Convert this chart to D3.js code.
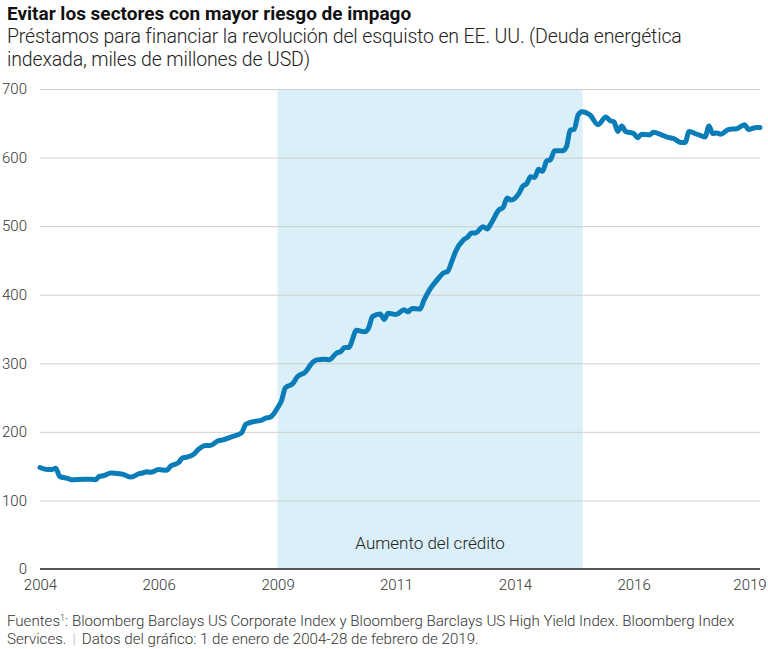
<!DOCTYPE html>
<html>
  <head>
    <meta charset="utf-8">
    <title></title>
    <style>
      body {
        margin: 0;
        background: #fff;
        font-family: Roboto, sans-serif;
      }
      svg {
        display: block;
      }
      .title {
        font-family: Roboto, sans-serif;
        font-weight: 700;
        font-size: 19px;
        fill: #111;
      }
      .subtitle {
        font-family: Roboto, sans-serif;
        font-weight: 300;
        font-size: 19.5px;
        letter-spacing: -0.15px;
        fill: #222;
      }
      .axis text {
        font-family: Roboto, sans-serif;
        font-weight: 300;
        font-size: 15px;
        fill: #333;
      }
      .axis .domain {
        stroke: none;
      }
      .grid line {
        stroke: #cfcfcf;
      }
      .note {
        font-size: 15.1px;
        font-weight: 300;
        fill: #333;
      }
    </style>
  </head>
  <body>
    <div class="chart"></div>
    <script src="https://cdn.jsdelivr.net/npm/d3@7"></script>
    <script>

      // deuda energética indexada, miles de millones de USD
      let months = [
        "2004-01","2004-03","2004-04","2004-05","2004-06","2004-08","2004-09","2004-12",
        "2005-02","2005-03","2005-04","2005-05","2005-07","2005-09","2005-10","2005-12",
        "2006-02","2006-03","2006-04","2006-05","2006-07","2006-09","2006-10","2006-12",
        "2007-01","2007-02","2007-04","2007-05","2007-07","2007-08","2007-10","2007-11",
        "2008-01","2008-02","2008-04","2008-05","2008-07","2008-09","2008-10","2008-11","2008-12",
        "2009-01","2009-02","2009-03","2009-05","2009-06","2009-08","2009-10","2009-11",
        "2010-01","2010-02","2010-04","2010-05","2010-06","2010-07","2010-09","2010-11","2010-12",
        "2011-01","2011-03","2011-04","2011-05","2011-07","2011-09","2011-10","2011-11",
        "2012-01","2012-02","2012-04","2012-05","2012-07","2012-08","2012-09","2012-10","2012-12",
        "2013-01","2013-02","2013-03","2013-05","2013-06","2013-07","2013-09","2013-10","2013-11","2013-12",
        "2014-02","2014-03","2014-04","2014-05","2014-06","2014-07","2014-08","2014-09","2014-10","2014-11",
        "2015-01","2015-02","2015-03","2015-04","2015-05","2015-06","2015-08","2015-10","2015-12",
        "2016-01","2016-02","2016-03","2016-04","2016-05","2016-07","2016-08","2016-09","2016-11","2016-12",
        "2017-02","2017-04","2017-05","2017-07","2017-08","2017-09","2017-11","2017-12",
        "2018-01","2018-02","2018-03","2018-04","2018-05","2018-07","2018-09","2018-11","2018-12",
        "2019-02"
      ];
      let debt = [
        148,145,145,147,135,132,130,131,
        131,130,135,136,140,139,138,134,
        139,140,142,141,145,144,150,155,
        162,163,168,174,180,180,187,188,
        192,194,199,211,215,217,220,221,226,
        235,246,264,271,280,287,302,305,
        306,305,315,317,323,323,348,346,351,
        368,372,364,373,371,378,375,380,
        379,392,412,419,432,434,448,463,480,
        484,490,490,499,496,504,524,527,541,538,
        548,558,562,572,571,583,580,595,597,610,
        610,616,640,641,662,667,662,648,659,
        654,652,638,646,638,635,629,634,633,637,
        633,629,628,622,622,638,634,632,
        630,646,635,636,634,641,642,648,641,
        644
      ];

      let dateRange = ["2004-01-01", "2019-02-28"];
      let boomRange = ["2009-01-01", "2015-06-05"];
      let boomLabel = "Aumento del crédito";

      let xTicks = ["2004-01-01","2006-07-01","2009-01-01","2011-07-01","2014-01-01","2016-07-01","2019-01-01"];
      let xTickLabels = ["2004","2006","2009","2011","2014","2016","2019"];
      let yTicks = [0, 100, 200, 300, 400, 500, 600, 700];

      let parse = d3.timeParse("%Y-%m-%d");
      let data = months.map((m, i) => ({date: parse(m + "-01"), value: debt[i]}));
      data.push({date: parse(dateRange[1]), value: debt[debt.length - 1]});

      let elWidth = 768, elHeight = 649;
      let margin = {top: 89, right: 8, bottom: 80, left: 40};
      let width = elWidth - margin.left - margin.right;
      let height = elHeight - margin.top - margin.bottom;

      let svg = d3.select(".chart").append("svg")
        .attr("width", elWidth)
        .attr("height", elHeight);

      svg.append("text").attr("class", "title")
        .attr("x", 7).attr("y", 20)
        .text("Evitar los sectores con mayor riesgo de impago");

      svg.append("text").attr("class", "subtitle")
        .attr("x", 7).attr("y", 43)
        .text("Préstamos para financiar la revolución del esquisto en EE. UU. (Deuda energética");
      svg.append("text").attr("class", "subtitle")
        .attr("x", 7).attr("y", 66)
        .text("indexada, miles de millones de USD)");

      let g = svg.append("g").attr("transform", "translate(" + margin.left + "," + margin.top + ")");

      let x = d3.scaleTime()
        .domain(dateRange.map(parse))
        .range([0, width]);

      let y = d3.scaleLinear()
        .domain([0, 700])
        .range([height, 0]);

      // zona sombreada
      g.append("rect")
        .attr("x", x(parse(boomRange[0])))
        .attr("y", y(700))
        .attr("width", x(parse(boomRange[1])) - x(parse(boomRange[0])))
        .attr("height", y(0) - y(700))
        .attr("fill", "#daeff7");

      g.append("text")
        .attr("x", (x(parse(boomRange[0])) + x(parse(boomRange[1]))) / 2)
        .attr("y", y(0) - 20)
        .attr("text-anchor", "middle")
        .attr("font-size", "17px")
        .attr("font-weight", 300)
        .attr("fill", "#222")
        .text(boomLabel);

      g.append("g")
        .attr("class", "axis grid")
        .call(d3.axisLeft(y).tickValues(yTicks).tickSize(-width).tickPadding(13))
        .call(g => g.selectAll(".tick line").filter(d => d === 0).remove());

      g.append("line")
        .attr("x1", 0).attr("x2", width)
        .attr("y1", y(0)).attr("y2", y(0))
        .attr("stroke", "#555")
        .attr("stroke-width", 2);

      g.append("g")
        .attr("class", "axis axis-bottom")
        .attr("transform", "translate(0," + height + ")")
        .call(d3.axisBottom(x)
          .tickValues(xTicks.map(parse))
          .tickFormat((d, i) => xTickLabels[i])
          .tickSize(0)
          .tickPadding(10))
        .selectAll("text")
        .attr("dy", "0.71em")
        .attr("dx", (d, i) => i === xTicks.length - 1 ? -3 : 0);

      let line = d3.line()
        .x(d => x(d.date))
        .y(d => y(d.value))
        .curve(d3.curveMonotoneX);

      g.append("path")
        .datum(data)
        .attr("fill", "none")
        .attr("stroke", "#0a7db8")
        .attr("stroke-width", 5)
        .attr("stroke-linejoin", "round")
        .attr("stroke-linecap", "round")
        .attr("d", line);

      let note = svg.append("text").attr("class", "note").attr("x", 7).attr("y", 626);
      note.append("tspan").text("Fuentes");
      note.append("tspan").attr("font-size", "9px").attr("dy", -5).text("1");
      note.append("tspan").attr("dy", 5).text(": Bloomberg Barclays US Corporate Index y Bloomberg Barclays US High Yield Index. Bloomberg Index");

      let note2 = svg.append("text").attr("class", "note").attr("x", 7).attr("y", 644);
      note2.append("tspan").text("Services.");
      note2.append("tspan").attr("fill", "#bbb").attr("dx", 6).text("|");
      note2.append("tspan").attr("dx", 6).text("Datos del gráfico: 1 de enero de 2004-28 de febrero de 2019.");

    </script>
  </body>
</html>
